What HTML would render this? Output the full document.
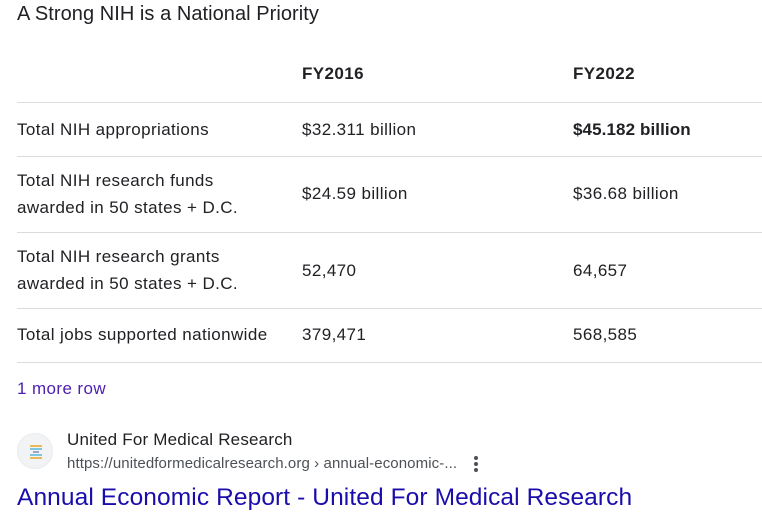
<!DOCTYPE html>
<html><head><meta charset="utf-8"><style>
body{margin:0;width:762px;height:518px;background:#fff;font-family:"Liberation Sans",Arial,sans-serif;color:#202124;position:relative;overflow:hidden}
.a{position:absolute;white-space:nowrap}
.t{font-size:17px;line-height:27px;letter-spacing:0.4px}
.ln{position:absolute;left:17px;width:745px;height:1px;background:#dadce0}
</style></head><body>
<div class="a" style="left:17px;top:2px;font-size:20px;line-height:24px;letter-spacing:0.05px">A Strong NIH is a National Priority</div>
<div class="a t" style="left:302px;top:60px;font-weight:bold">FY2016</div>
<div class="a t" style="left:573px;top:60px;font-weight:bold">FY2022</div>
<div class="ln" style="top:102px"></div>
<div class="a t" style="left:17px;top:116px">Total NIH appropriations</div>
<div class="a t" style="left:302px;top:116px">$32.311 billion</div>
<div class="a t" style="left:573px;top:116px;font-weight:bold;letter-spacing:0.1px">$45.182 billion</div>
<div class="ln" style="top:156px"></div>
<div class="a t" style="left:17px;top:167px">Total NIH research funds<br>awarded in 50 states + D.C.</div>
<div class="a t" style="left:302px;top:180px">$24.59 billion</div>
<div class="a t" style="left:573px;top:180px">$36.68 billion</div>
<div class="ln" style="top:232px"></div>
<div class="a t" style="left:17px;top:243px">Total NIH research grants<br>awarded in 50 states + D.C.</div>
<div class="a t" style="left:302px;top:257px">52,470</div>
<div class="a t" style="left:573px;top:257px">64,657</div>
<div class="ln" style="top:308px"></div>
<div class="a t" style="left:17px;top:321px">Total jobs supported nationwide</div>
<div class="a t" style="left:302px;top:321px">379,471</div>
<div class="a t" style="left:573px;top:321px">568,585</div>
<div class="ln" style="top:362px"></div>
<div class="a t" style="left:17px;top:375px;color:#4b1fb0">1 more row</div>
<div class="a" style="left:17px;top:433px;width:36px;height:36px;border-radius:50%;background:#f1f3f4;border:1px solid #e8eaed;box-sizing:border-box">
<svg width="36" height="36" viewBox="0 0 36 36"><rect x="12" y="11" width="12" height="2" fill="#e9b95a"/><rect x="12" y="14" width="12" height="2" fill="#7fc6e0"/><rect x="15" y="17" width="6" height="2" fill="#9aa7c9"/><rect x="12" y="20" width="12" height="2" fill="#7fc6e0"/><rect x="12" y="23" width="12" height="2" fill="#e9b95a"/></svg></div>
<div class="a" style="left:67px;top:429px;font-size:17px;line-height:22px;letter-spacing:0.2px">United For Medical Research</div>
<div class="a" style="left:67px;top:454px;font-size:15px;line-height:20px;color:#4d5156;letter-spacing:0.1px">https://unitedformedicalresearch.org › annual-economic-...</div>
<div class="a" style="left:470px;top:455px;width:12px;height:18px">
<svg width="12" height="18"><circle cx="6" cy="3" r="2" fill="#4d5156"/><circle cx="6" cy="9" r="2" fill="#4d5156"/><circle cx="6" cy="15" r="2" fill="#4d5156"/></svg></div>
<div class="a" style="left:17px;top:483px;font-size:24.5px;line-height:30px;color:#1a0dab;letter-spacing:0.1px">Annual Economic Report - United For Medical Research</div>
</body></html>
